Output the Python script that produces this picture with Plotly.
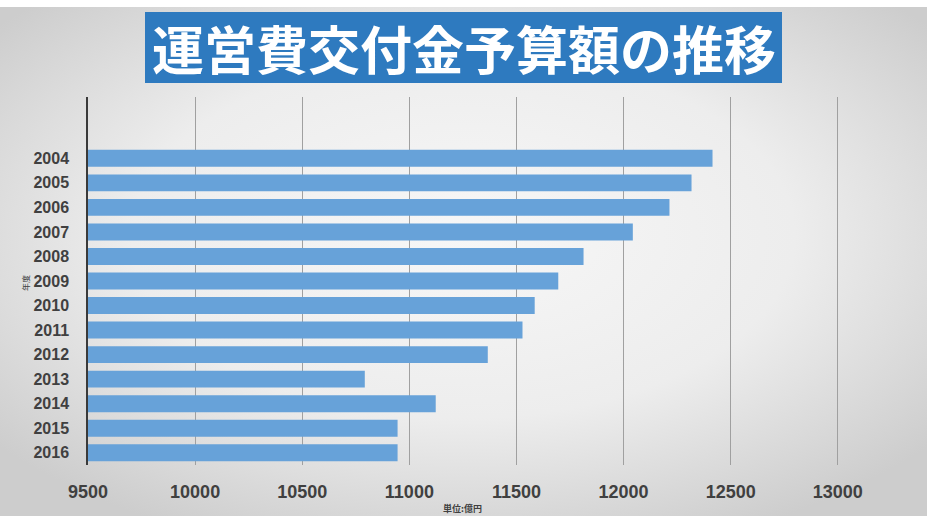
import base64
import plotly.graph_objects as go

W, H = 934, 525

years = ["2004", "2005", "2006", "2007", "2008", "2009", "2010",
         "2011", "2012", "2013", "2014", "2015", "2016"]
budget = [12415, 12317, 12214, 12043, 11813, 11695, 11585,
          11528, 11366, 10792, 11123, 10945, 10945]
x_ticks = [9500, 10000, 10500, 11000, 11500, 12000, 12500, 13000]
title_text = "運営費交付金予算額の推移"
y_title = "年度"
unit_text = "単位:億円"

svg = """<svg xmlns='http://www.w3.org/2000/svg' width='927' height='509' viewBox='0 0 927 509' preserveAspectRatio='none'>
<defs><radialGradient id='g' cx='50%' cy='45%' r='65%'>
<stop offset='0%' stop-color='#f7f7f7'/>
<stop offset='55%' stop-color='#ededed'/>
<stop offset='100%' stop-color='#cdcdcd'/>
</radialGradient></defs>
<rect width='927' height='509' fill='url(#g)'/></svg>"""
bg_uri = "data:image/svg+xml;base64," + base64.b64encode(svg.encode()).decode()

fig = go.Figure()
fig.add_trace(go.Bar(
    x=budget, y=years, orientation="h",
    marker=dict(color="#67a2d9", line=dict(width=0)),
    hoverinfo="x+y",
))

num_font = "Liberation Sans Narrow, Arial Narrow, Liberation Sans, sans-serif"

fig.update_layout(
    width=W, height=H,
    margin=dict(l=0, r=0, t=0, b=0, autoexpand=False),
    paper_bgcolor="white",
    plot_bgcolor="rgba(0,0,0,0)",
    showlegend=False,
    bargap=0.31,
    xaxis=dict(
        domain=[88 / W, 840 / W],
        automargin=False,
        range=[9500, 13010],
        tickvals=x_ticks,
        ticktext=[str(v) for v in x_ticks],
        showgrid=True, gridcolor="#a0a0a0", gridwidth=1,
        zeroline=False, showline=False,
        ticks="", ticklabelstandoff=14,
        tickfont=dict(family=num_font, size=18, color="#404040", weight="bold"),
        fixedrange=True,
    ),
    yaxis=dict(
        domain=[(H - 465) / H, (H - 97) / H],
        automargin=False,
        type="category",
        categoryorder="array", categoryarray=years,
        range=[12.5, -2.5],
        showgrid=False, zeroline=False,
        showline=True, linecolor="#3a3a3a", linewidth=1.5,
        ticks="", ticklabelstandoff=14,
        tickfont=dict(family=num_font, size=16, color="#404040", weight="bold"),
        fixedrange=True,
    ),
    images=[dict(
        source=bg_uri, xref="paper", yref="paper",
        x=0, y=(H - 7) / H, sizex=927 / W, sizey=509 / H,
        xanchor="left", yanchor="top", sizing="stretch", layer="below",
    )],
    shapes=[dict(
        type="rect", xref="paper", yref="paper",
        x0=145 / W, x1=782 / W, y0=(H - 83) / H, y1=(H - 12) / H,
        fillcolor="#2e7abf", line=dict(width=0), layer="above",
    )],
    annotations=[
        dict(text=title_text, xref="paper", yref="paper",
             x=463.5 / W, y=(H - 48) / H, xanchor="center", yanchor="middle",
             showarrow=False,
             font=dict(family="Noto Sans CJK JP", size=52, color="white", weight="bold")),
        dict(text=y_title, xref="paper", yref="paper",
             x=25 / W, y=(H - 283) / H, xanchor="center", yanchor="middle",
             showarrow=False, textangle=-90,
             font=dict(family="Noto Sans CJK JP", size=8, color="#404040")),
        dict(text=unit_text, xref="paper", yref="paper",
             x=462 / W, y=(H - 508) / H, xanchor="center", yanchor="middle",
             showarrow=False,
             font=dict(family="Noto Sans CJK JP", size=9, color="#404040", weight="bold")),
    ],
)

fig.write_html("out.html", include_plotlyjs=True, config={"displayModeBar": False})
